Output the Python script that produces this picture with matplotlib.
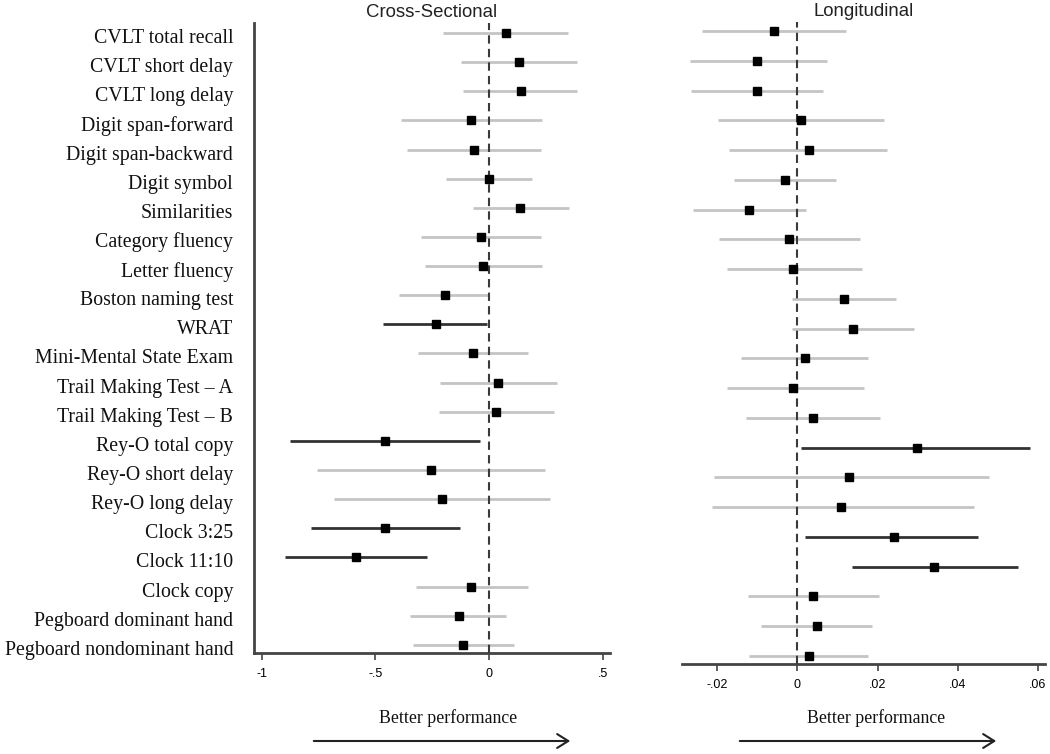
import matplotlib
matplotlib.use("Agg")
import matplotlib.pyplot as plt
import matplotlib.transforms as mtransforms
import numpy as np

labels = ["CVLT total recall", "CVLT short delay", "CVLT long delay", "Digit span-forward",
          "Digit span-backward", "Digit symbol", "Similarities", "Category fluency",
          "Letter fluency", "Boston naming test", "WRAT", "Mini-Mental State Exam",
          "Trail Making Test \u2013 A", "Trail Making Test \u2013 B", "Rey-O total copy",
          "Rey-O short delay", "Rey-O long delay", "Clock 3:25", "Clock 11:10",
          "Clock copy", "Pegboard dominant hand", "Pegboard nondominant hand"]

cs_est = [0.073, 0.132, 0.140, -0.081, -0.066, 0.000, 0.138, -0.034, -0.025, -0.192, -0.235,
          -0.070, 0.041, 0.029, -0.458, -0.254, -0.207, -0.457, -0.584, -0.079, -0.134, -0.116]
cs_lo = [-0.204, -0.125, -0.113, -0.389, -0.360, -0.191, -0.070, -0.300, -0.283, -0.395, -0.468,
         -0.313, -0.216, -0.222, -0.877, -0.756, -0.683, -0.786, -0.900, -0.323, -0.347, -0.335]
cs_hi = [0.347, 0.389, 0.389, 0.233, 0.228, 0.191, 0.352, 0.228, 0.233, -0.006, -0.007,
         0.172, 0.300, 0.286, -0.038, 0.245, 0.269, -0.128, -0.272, 0.172, 0.076, 0.112]
cs_sig = [0, 0, 0, 0, 0, 0, 0, 0, 0, 0, 1, 0, 0, 0, 1, 0, 0, 1, 1, 0, 0, 0]

lg_est = [-0.0058, -0.0100, -0.0100, 0.0010, 0.0030, -0.0030, -0.0120, -0.0020, -0.0012, 0.0117,
          0.0138, 0.0019, -0.0012, 0.0040, 0.0298, 0.0129, 0.0110, 0.0241, 0.0340, 0.0040,
          0.0050, 0.0029]
lg_lo = [-0.0239, -0.0269, -0.0266, -0.0197, -0.0170, -0.0157, -0.0260, -0.0195, -0.0176, -0.0013,
         -0.0013, -0.0140, -0.0176, -0.0129, 0.0008, -0.0208, -0.0214, 0.0020, 0.0137, -0.0123,
         -0.0092, -0.0120]
lg_hi = [0.0121, 0.0073, 0.0063, 0.0216, 0.0224, 0.0097, 0.0022, 0.0156, 0.0162, 0.0247,
         0.0292, 0.0176, 0.0165, 0.0207, 0.0581, 0.0479, 0.0441, 0.0452, 0.0550, 0.0203,
         0.0186, 0.0176]
lg_sig = [0, 0, 0, 0, 0, 0, 0, 0, 0, 0, 0, 0, 0, 0, 1, 0, 0, 1, 1, 0, 0, 0]

cs_ticks = [-1, -0.5, 0, 0.5]
cs_ticklabels = ["-1", "-.5", "0", ".5"]
lg_ticks = [-0.02, 0, 0.02, 0.04, 0.06]
lg_ticklabels = ["-.02", "0", ".02", ".04", ".06"]

W, H = 1050, 754
fig = plt.figure(figsize=(W / 100, H / 100), dpi=100)

def px_axes(x0, x1, ytop, ybot):
    return fig.add_axes([x0 / W, 1 - ybot / H, (x1 - x0) / W, (ybot - ytop) / H])

GRAY = "#c4c4c4"
DARK = "#333333"
SPINE = "#444444"

def panel(ax, est, lo, hi, sig, xlim, ylim, ticks, ticklabels, title):
    n = len(est)
    y = np.arange(n)
    for i in range(n):
        ax.plot([lo[i], hi[i]], [y[i], y[i]], color=DARK if sig[i] else GRAY,
                lw=2.0, solid_capstyle="butt", zorder=2)
    ax.axvline(0, color="#3a3a3a", lw=1.5, ls=(0, (4, 2.5)), zorder=3)
    ax.plot(est, y, ls="none", marker="s", ms=5.2, color="black", zorder=4)
    ax.set_xlim(*xlim)
    ax.set_ylim(*ylim)
    ax.set_xticks(ticks)
    ax.set_xticklabels(ticklabels, fontfamily="Liberation Sans", fontsize=9)
    ax.tick_params(axis="x", direction="out", length=5, width=1.2, color=SPINE, pad=6)
    for s in ["top", "right"]:
        ax.spines[s].set_visible(False)
    ax.spines["bottom"].set_color(SPINE)
    ax.spines["bottom"].set_linewidth(2)
    ax.set_title(title, fontfamily="Liberation Sans", fontsize=13.4, color="#222222", pad=4)

# Left panel
axL = px_axes(254, 610, 23, 653)
panel(axL, cs_est, cs_lo, cs_hi, cs_sig, (-1.035, 0.533), (21.28, -0.343),
      cs_ticks, cs_ticklabels, "Cross-Sectional")
axL.spines["left"].set_color(SPINE)
axL.spines["left"].set_linewidth(2)
axL.set_yticks(np.arange(len(labels)))
axL.set_yticklabels(labels, fontfamily="Liberation Serif", fontsize=14.3, color="#111111")
axL.tick_params(axis="y", length=0, pad=15)
offset = mtransforms.ScaledTranslation(0, -3 / 100, fig.dpi_scale_trans)
for lab in axL.get_yticklabels():
    lab.set_transform(lab.get_transform() + offset)
axL.title.set_y(1.0)

# Right panel
axR = px_axes(682, 1045, 22, 664)
panel(axR, lg_est, lg_lo, lg_hi, lg_sig, (-0.0288, 0.0618), (21.27, -0.302),
      lg_ticks, lg_ticklabels, "Longitudinal")
axR.spines["left"].set_visible(False)
axR.set_yticks([])
axR.title.set_y(1.0)

# Arrows and captions
for xs, xe, xc in [(311, 573, 448), (737, 999, 876)]:
    fig.text(xc / W, 1 - 718 / H, "Better performance", ha="center", va="center",
             fontfamily="Liberation Serif", fontsize=12.8, color="#111111")
    fig.patches.append(matplotlib.patches.FancyArrowPatch(
        (xs / W, 1 - 741 / H), (xe / W, 1 - 741 / H), transform=fig.transFigure,
        arrowstyle="->,head_length=8,head_width=5", lw=1.5, color="#222222"))

fig.savefig("out.png", dpi=100)
